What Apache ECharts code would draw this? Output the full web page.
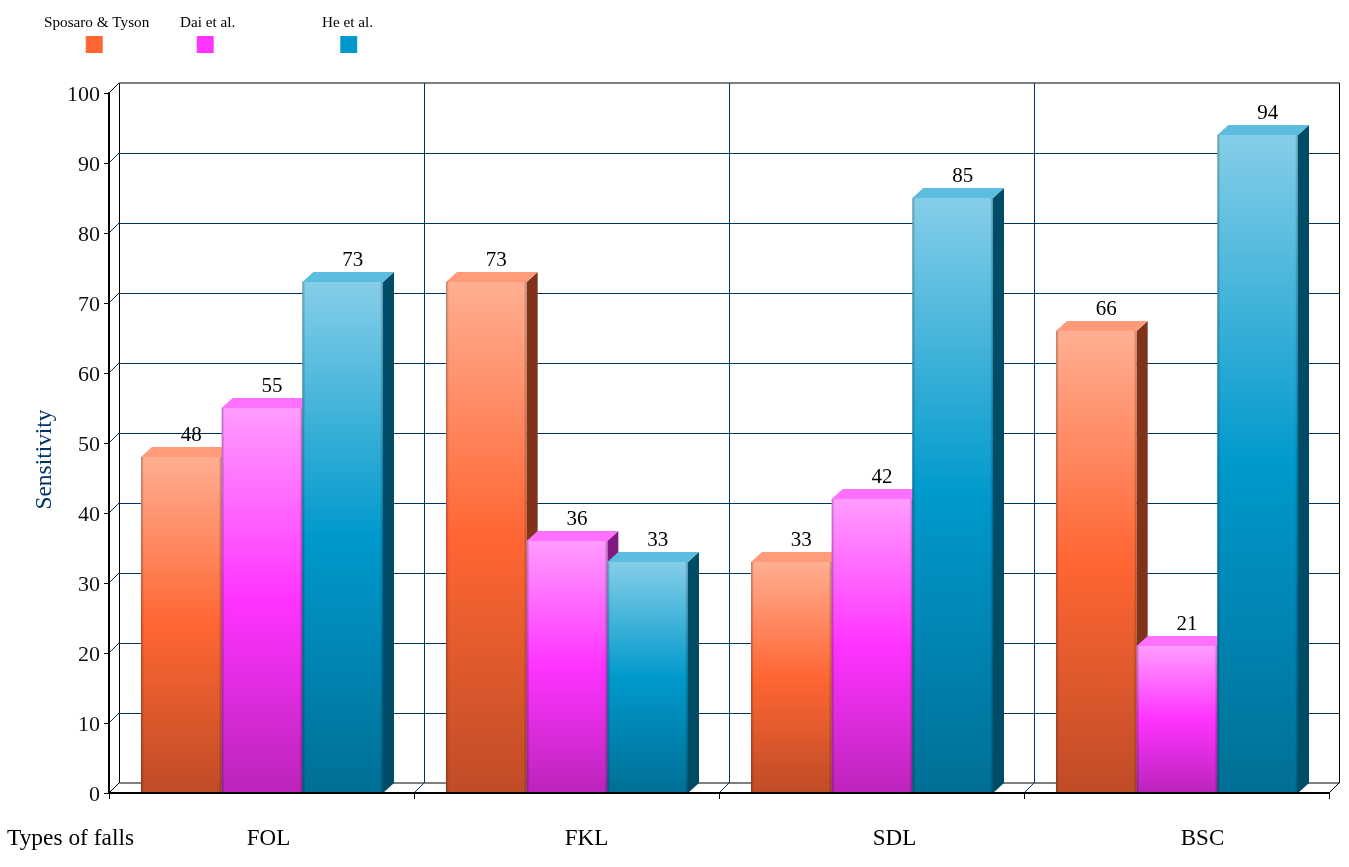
<!DOCTYPE html>
<html>
<head>
<meta charset="utf-8">
<style>html,body{margin:0;padding:0;background:#fff}#c{width:1349px;height:867px}</style>
<script src="https://cdn.jsdelivr.net/npm/echarts@6/dist/echarts.min.js"></script>
</head>
<body>
<div id="c"></div>
<script>
const categories = ['FOL', 'FKL', 'SDL', 'BSC'];
const yTicks = [0, 10, 20, 30, 40, 50, 60, 70, 80, 90, 100];
const sposaro = [48, 73, 33, 66];
const dai = [55, 36, 42, 21];
const he = [73, 33, 85, 94];
const seriesNames = ['Sposaro & Tyson', 'Dai et al.', 'He et al.'];

const xTitle = 'Types of falls';
const yTitle = 'Sensitivity';

const palette = [
  { base: '#FF6633', light: '#FFAE92', dark: '#BF4C26', top: '#FF9B7A', side: '#7F331A' },
  { base: '#FF33FF', light: '#FF9CFF', dark: '#BB24BB', top: '#FF70FF', side: '#801A80' },
  { base: '#0099CC', light: '#85CEE8', dark: '#006F96', top: '#5CBDDE', side: '#004C66' }
];
const allValues = [sposaro, dai, he];
const FONT = '"Liberation Serif","Times New Roman",serif';
const DX = 11, DY = 10, WALL = 10;
const BAR_SHARE = 0.2645;
const labelShift = [7, 20, 23, 26];

function barRenderer(seriesIdx) {
  const c = palette[seriesIdx];
  return function (params, api) {
    const p = api.coord([api.value(0), api.value(1)]);
    const base = api.coord([api.value(0), 0]);
    const w = api.size([1, 0])[0] * BAR_SHARE;
    const x0 = p[0] + (seriesIdx - 1) * w - w / 2 + 0.5;
    const x1 = x0 + w;
    const yT = p[1], yB = base[1];
    const edge = (x, dir) => ({
      type: 'rect', silent: true,
      shape: { x: x, y: yT, width: 3, height: yB - yT },
      style: {
        fill: new echarts.graphic.LinearGradient(0, 0, 1, 0, dir > 0
          ? [{ offset: 0, color: 'rgba(0,0,0,0.28)' }, { offset: 1, color: 'rgba(0,0,0,0)' }]
          : [{ offset: 0, color: 'rgba(0,0,0,0)' }, { offset: 1, color: 'rgba(0,0,0,0.28)' }])
      }
    });
    return {
      type: 'group',
      children: [
        { type: 'polygon', shape: { points: [[x1, yT], [x1 + DX, yT - DY], [x1 + DX, yB - DY], [x1, yB]] }, style: { fill: c.side } },
        { type: 'polygon', shape: { points: [[x0, yT], [x0 + DX, yT - DY], [x1 + DX, yT - DY], [x1, yT]] }, style: { fill: c.top } },
        {
          type: 'rect', shape: { x: x0, y: yT, width: w, height: yB - yT },
          style: {
            fill: new echarts.graphic.LinearGradient(0, 0, 0, 1, [
              { offset: 0, color: c.light },
              { offset: 0.5, color: c.base },
              { offset: 1, color: c.dark }
            ])
          }
        },
        edge(x0, 1),
        edge(x1 - 3, -1),
        {
          type: 'text',
          style: {
            text: String(api.value(1)), x: (x0 + x1) / 2 + 10, y: yT - DY - 11.5,
            fill: '#000', font: '21px ' + FONT, textAlign: 'center', textVerticalAlign: 'middle'
          }
        }
      ]
    };
  };
}

function seriesData(values) { return values.map((v, i) => [i, v]); }

const bars = allValues.map((vals, i) => ({
  type: 'custom', name: seriesNames[i], xAxisIndex: 0, yAxisIndex: 0, z: 3,
  encode: { x: 0, y: 1 }, clip: false,
  data: seriesData(vals), renderItem: barRenderer(i)
}));

const floorY = {
  type: 'custom', xAxisIndex: 0, yAxisIndex: 0, z: 1, silent: true, clip: false,
  encode: { y: 0 },
  data: yTicks.map(v => [v]),
  renderItem(params, api) {
    const v = api.value(0);
    const y = api.coord([0, v])[1];
    const x = params.coordSys.x;
    return {
      type: 'line', shape: { x1: x, y1: y, x2: x + WALL, y2: y - WALL },
      style: { stroke: (v === 0 || v === 100) ? '#000' : '#003366', lineWidth: 1 }
    };
  }
};
const floorX = {
  type: 'custom', xAxisIndex: 0, yAxisIndex: 0, z: 1, silent: true, clip: false,
  encode: { x: 0 },
  data: [0, 1, 2, 3, 4].map(v => [v]),
  renderItem(params, api) {
    const cs = params.coordSys;
    const x = cs.x + cs.width * api.value(0) / categories.length;
    const y = cs.y + cs.height;
    return {
      type: 'line', shape: { x1: x, y1: y, x2: x + WALL, y2: y - WALL },
      style: { stroke: (api.value(0) === 0 || api.value(0) === 4) ? '#000' : '#003366', lineWidth: 1 }
    };
  }
};

const rich = {};
labelShift.forEach((s, i) => {
  rich['c' + i] = { padding: [0, 0, 0, s * 2], fontFamily: FONT, fontSize: 23, color: '#000' };
});

const swatchX = [85.5, 196.5, 340];
const legendTextX = [44, 180, 322];
const legendGraphics = [];
seriesNames.forEach((n, i) => {
  legendGraphics.push({
    type: 'text', left: legendTextX[i], top: 16,
    style: { text: n, fill: '#000', font: '15.2px ' + FONT }
  });
  legendGraphics.push({
    type: 'rect', left: swatchX[i], top: 36,
    shape: { width: 17.5, height: 17 },
    style: {
      fill: new echarts.graphic.LinearGradient(0, 0, 1, 0, [
        { offset: 0, color: palette[i].light },
        { offset: 0.06, color: palette[i].base },
        { offset: 0.94, color: palette[i].base },
        { offset: 1, color: palette[i].light }
      ])
    }
  });
});
legendGraphics.push({
  type: 'text', left: 7, top: 827,
  style: { text: xTitle, fill: '#000', font: '23.4px ' + FONT }
});

const chart = echarts.init(document.getElementById('c'), null, { renderer: 'canvas' });
chart.setOption({
  animation: false,
  backgroundColor: '#fff',
  graphic: legendGraphics,
  grid: [
    { left: 109, top: 93, width: 1220, height: 700, containLabel: false, outerBoundsMode: 'none' },
    { left: 119.5, top: 83, width: 1220, height: 700, show: true, backgroundColor: 'transparent', borderColor: '#000', borderWidth: 1, containLabel: false, outerBoundsMode: 'none' }
  ],
  xAxis: [
    {
      type: 'category', gridIndex: 0, data: categories, z: 5,
      boundaryGap: true,
      axisLine: { show: true, onZero: false, lineStyle: { color: '#000', width: 2 } },
      axisTick: { show: true, length: 6, interval: 0, alignWithLabel: false, lineStyle: { color: '#000', width: 1 } },
      splitLine: { show: false },
      axisLabel: {
        interval: 0, margin: 34, hideOverlap: false,
        formatter: (v, i) => '{c' + i + '|' + v + '}',
        rich: rich
      }
    },
    {
      type: 'category', gridIndex: 1, data: categories, z: 0,
      axisLine: { show: false }, axisTick: { show: false }, axisLabel: { show: false },
      splitLine: { show: true, interval: 0, showMinLine: false, showMaxLine: false, lineStyle: { color: '#003366', width: 1 } }
    }
  ],
  yAxis: [
    {
      type: 'value', gridIndex: 0, min: 0, max: 100, interval: 10, z: 5,
      name: '{n|' + yTitle + '}', nameLocation: 'middle', nameGap: 52, nameRotate: 90,
      nameTextStyle: {
        rich: { n: { fontFamily: FONT, fontSize: 23.4, color: '#003366', padding: [0, 33, 0, 0] } }
      },
      axisLine: { show: true, onZero: false, lineStyle: { color: '#000', width: 2 } },
      axisTick: { show: true, length: 5, lineStyle: { color: '#000', width: 1 } },
      axisLabel: {
        margin: 9,
        formatter: v => '{t|' + v + '}',
        rich: { t: { fontFamily: FONT, fontSize: 22, color: '#111', padding: [4, 0, 0, 0] } }
      },
      splitLine: { show: false }
    },
    {
      type: 'value', gridIndex: 1, min: 0, max: 100, interval: 10, z: 0,
      axisLine: { show: false }, axisTick: { show: false }, axisLabel: { show: false },
      splitLine: { show: true, showMinLine: false, showMaxLine: false, lineStyle: { color: '#003366', width: 1 } }
    }
  ],
  series: [floorY, floorX].concat(bars)
});
</script>
</body>
</html>
